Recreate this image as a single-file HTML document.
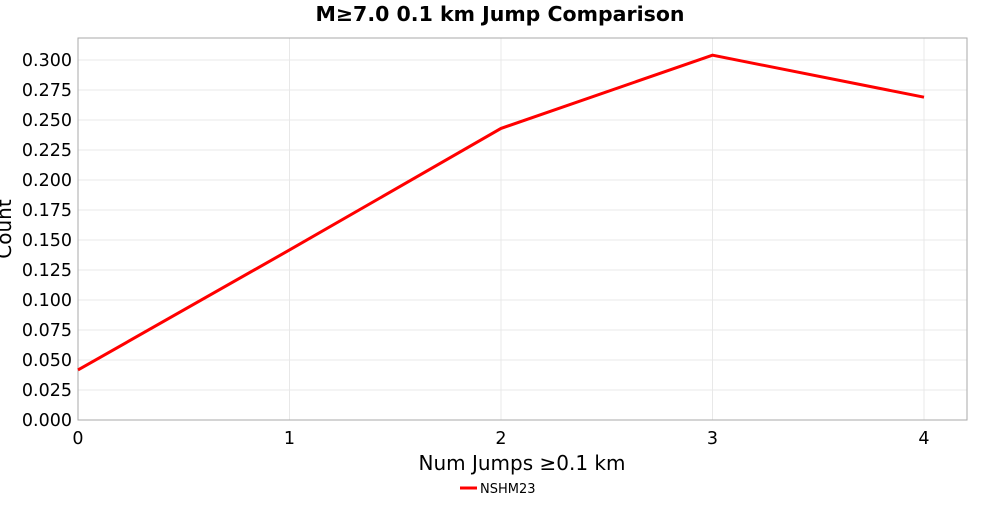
<!DOCTYPE html>
<html><head><meta charset="utf-8"><style>
body{margin:0;background:#fff;font-family:"Liberation Sans","DejaVu Sans",sans-serif}
svg text{font-family:"DejaVu Sans","Liberation Sans",sans-serif}
</style></head><body>
<svg id="c" width="1000" height="500" xmlns="http://www.w3.org/2000/svg">
<text x="500" y="21" text-anchor="middle" font-size="20.5" font-weight="bold">M≥7.0 0.1 km Jump Comparison</text>
<g id="grid"></g>
<rect x="78" y="38" width="889" height="382" fill="none" stroke="#aaa"/>
<g id="ticks"></g>
<path id="line" fill="none" stroke="#f00" stroke-width="3"/>
<text x="522" y="470" text-anchor="middle" font-size="20">Num Jumps ≥0.1 km</text>
<text transform="translate(11,229) rotate(-90)" text-anchor="middle" font-size="20">Count</text>
<g><line x1="460" y1="488" x2="477" y2="488" stroke="#f00" stroke-width="3"/><text x="480" y="493" font-size="13">NSHM23</text></g>
</svg>
<script>
const categories=[0,1,2,3,4];
const values=[0.0417,0.1417,0.243,0.304,0.269];
const yTicks=[0,0.025,0.05,0.075,0.1,0.125,0.15,0.175,0.2,0.225,0.25,0.275,0.3];
const xTicks=[0,1,2,3,4];
const X=v=>78+v*211.5, Y=v=>420-v*1200;
const ns="http://www.w3.org/2000/svg";
const g=document.getElementById('grid'),t=document.getElementById('ticks');
function mk(p,tag,a){const e=document.createElementNS(ns,tag);for(const k in a)e.setAttribute(k,a[k]);p.appendChild(e);return e;}
yTicks.forEach(v=>{const y=Y(v);
const l=mk(g,'line',{x1:78,x2:967,y1:y,y2:y,stroke:'#e8e8e8'});


const tx=mk(t,'text',{x:72,y:y+6,'text-anchor':'end','font-size':17.5});tx.textContent=v.toFixed(3);

});
xTicks.forEach(v=>{const x=X(v);
const l=mk(g,'line',{x1:x,x2:x,y1:38,y2:420,stroke:'#e8e8e8'});


const tx=mk(t,'text',{x:x,y:444,'text-anchor':'middle','font-size':17.5});tx.textContent=v;

});
document.getElementById('line').setAttribute('d',categories.map((c,i)=>(i?'L':'M')+X(c)+','+Y(values[i])).join(' '));
</script>
</body></html>
